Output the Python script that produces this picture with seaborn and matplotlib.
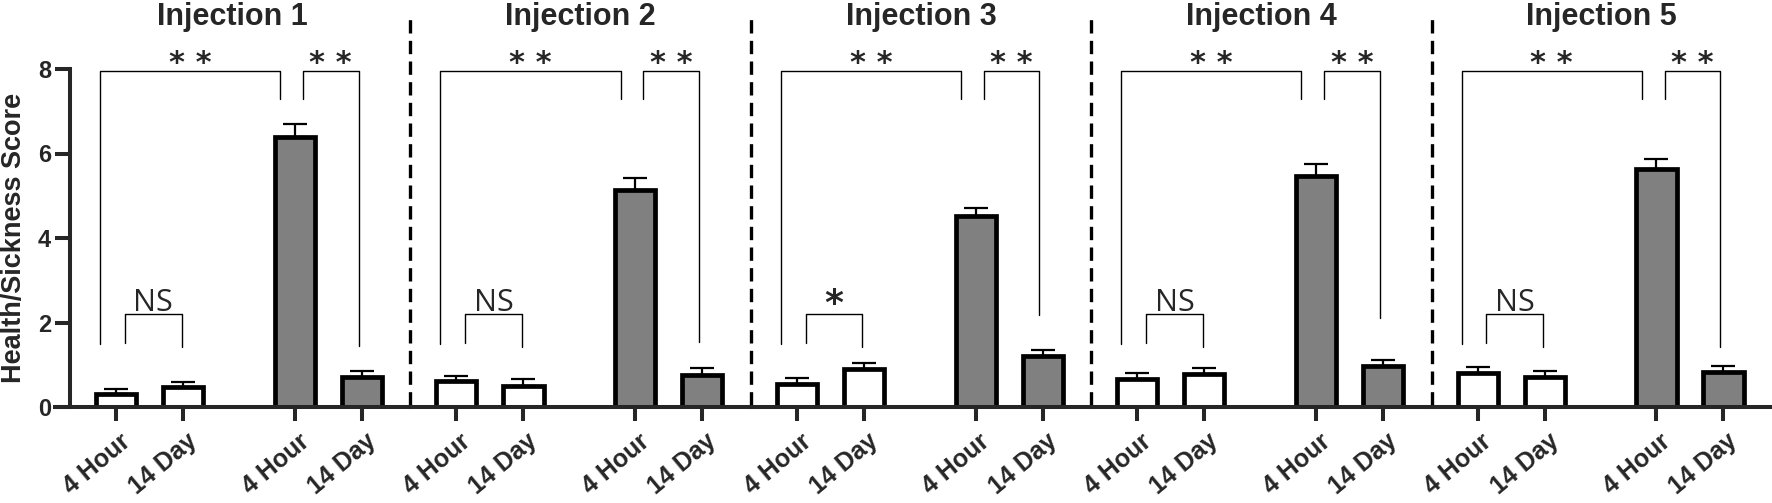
import matplotlib
matplotlib.use("Agg")
import matplotlib.pyplot as plt
import matplotlib.transforms as mtrans
import numpy as np
import pandas as pd
import seaborn as sns

# ---------------- data ----------------
panels = ["Injection 1", "Injection 2", "Injection 3", "Injection 4", "Injection 5"]
tick_labels = ["4 Hour", "14 Day", "4 Hour", "14 Day"]
groups = ["white", "white", "gray", "gray"]
means = [
    [0.30, 0.47, 6.40, 0.71],
    [0.61, 0.50, 5.14, 0.76],
    [0.54, 0.90, 4.52, 1.20],
    [0.67, 0.79, 5.47, 0.98],
    [0.80, 0.71, 5.63, 0.83],
]
sems = [
    [0.13, 0.13, 0.29, 0.15],
    [0.13, 0.16, 0.29, 0.16],
    [0.15, 0.14, 0.18, 0.14],
    [0.13, 0.14, 0.28, 0.14],
    [0.15, 0.15, 0.23, 0.13],
]
small_sig = ["NS", "NS", "*", "NS", "NS"]
big_sig = ["* *", "* *", "* *", "* *", "* *"]
right_leg_low = [1.45, 1.54, 2.18, 2.10, 1.43]
y_ticks = [0, 2, 4, 6, 8]
y_label = "Health/Sickness Score"

# ---------------- layout / style ----------------
positions = [0.0, 1.0, 2.67, 3.67]
sns.set_style("ticks")
plt.rcParams["font.family"] = ["Liberation Sans", "DejaVu Sans"]
NS_FONT = ["Open Sans", "DejaVu Sans"]
AST_FONT = ["DejaVu Sans"]

W, H, DPI = 1772, 503, 100
fig = plt.figure(figsize=(W / DPI, H / DPI), dpi=DPI)

unit_px = 67.0
panel_w = 340.4
x0_off = 46.0
y_top_px, y_bot_px = 69.0, 407.0
xl = -x0_off / unit_px
xr = (panel_w - x0_off) / unit_px

SPINE_LW = 2.9
palette = {"white": "white", "gray": "#808080"}
label_shift = mtrans.ScaledTranslation(11 / DPI, 0, fig.dpi_scale_trans)

for i, name in enumerate(panels):
    left_px = 70 + i * panel_w
    width_px = panel_w
    extra = 0.0
    if i == 0:
        extra = 15.0
        left_px -= extra
        width_px += extra
    ax = fig.add_axes([left_px / W, (H - y_bot_px) / H, width_px / W, (y_bot_px - y_top_px) / H])

    df = pd.DataFrame({"x": positions, "score": means[i], "group": groups})
    sns.barplot(data=df, x="x", y="score", hue="group", palette=palette, native_scale=True,
                dodge=False, width=0.6, errorbar=None, edgecolor="black", linewidth=3.4,
                legend=False, ax=ax, zorder=2)
    ax.errorbar(positions, means[i], yerr=[np.zeros(4), sems[i]], fmt="none", ecolor="black",
                elinewidth=1.6, capsize=8.6, capthick=1.6, zorder=1)

    ax.set_xlim(xl - extra / unit_px, xr)
    ax.set_ylim(0, 8)
    ax.set_xlabel("")
    ax.set_ylabel("")
    ax.tick_params(axis="x", direction="out", length=10, width=SPINE_LW, pad=12.5)
    ax.set_xticks(positions)
    for s in ["top", "right"]:
        ax.spines[s].set_visible(False)
    ax.spines["bottom"].set_linewidth(SPINE_LW)

    if i == 0:
        ax.spines["left"].set_linewidth(SPINE_LW)
        ax.spines["left"].set_position(("data", xl))
        ax.tick_params(axis="y", direction="out", length=10.5, width=SPINE_LW, pad=3)
        ax.set_yticks(y_ticks)
        ax.set_yticklabels([str(t) for t in y_ticks], fontsize=17, fontweight="bold")
    else:
        ax.spines["left"].set_visible(False)
        ax.set_yticks([])
        ax.axvline(xl, ymin=0.005, ymax=(y_bot_px - 13) / (y_bot_px - y_top_px), color="black",
                   lw=2.4, linestyle=(0, (4.0, 2.2)), clip_on=False)

    ax.set_xticklabels(tick_labels, rotation=40, ha="right", va="center",
                       rotation_mode="anchor", fontsize=18, fontweight="bold")
    for lab in ax.get_xticklabels():
        lab.set_transform(lab.get_transform() + label_shift)

    ax.set_title(name, fontsize=22, fontweight="bold", pad=31.7)

    # significance brackets
    p = positions
    blw = 1.0
    top = 7.96
    inner = 7.3
    # big left bracket
    xa, xb = p[0] - 0.24, p[2] - 0.22
    ax.plot([xa, xa, xb, xb], [1.5, top, top, inner], color="black", lw=blw, clip_on=False)
    ax.text((xa + xb) / 2, top - 0.04, big_sig[i], ha="center", va="baseline",
            fontsize=22, fontweight="bold", family=AST_FONT)
    # right bracket
    xa, xb = p[2] + 0.12, p[3] - 0.05
    ax.plot([xa, xa, xb, xb], [inner, top, top, right_leg_low[i]], color="black", lw=blw, clip_on=False)
    ax.text((xa + xb) / 2, top - 0.04, big_sig[i], ha="center", va="baseline",
            fontsize=22, fontweight="bold", family=AST_FONT)
    # small bracket
    xa, xb = p[0] + 0.13, p[1] - 0.02
    stop = 2.19
    ax.plot([xa, xa, xb, xb], [1.51, stop, stop, 1.43], color="black", lw=blw, clip_on=False)
    if small_sig[i] == "*":
        ax.text((xa + xb) / 2, stop, small_sig[i], ha="center", va="baseline",
                fontsize=26, fontweight="bold", family=AST_FONT)
    else:
        ax.text((xa + xb) / 2, stop + 0.08, small_sig[i], ha="center", va="baseline",
                fontsize=22, family=NS_FONT)

fig.text(14 / W, (H - (y_top_px + y_bot_px) / 2) / H, y_label, rotation=90, ha="center",
         va="center", fontsize=19.5, fontweight="bold")

fig.savefig("out.png", dpi=DPI)
